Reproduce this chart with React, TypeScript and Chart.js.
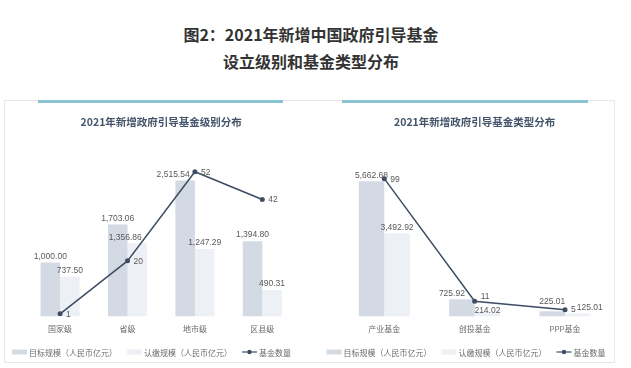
import React, { useEffect, useRef } from "react";
import { Chart, registerables } from "chart.js";

Chart.register(...registerables);

// ---------- data ----------
const levelCategories = ["国家级", "省级", "地市级", "区县级"];
const levelTarget = [1000.0, 1703.06, 2515.54, 1394.8];
const levelSubscribed = [737.5, 1356.86, 1247.29, 490.31];
const levelCount = [1, 20, 52, 42];

const typeCategories = ["产业基金", "创投基金", "PPP基金"];
const typeTarget = [5662.68, 725.92, 225.01];
const typeSubscribed = [3492.92, 214.02, 125.01];
const typeCount = [99, 11, 5];

const seriesNames = ["目标规模（人民币亿元）", "认缴规模（人民币亿元）", "基金数量"];

const mainTitle1 = "图2：2021年新增中国政府引导基金";
const mainTitle2 = "设立级别和基金类型分布";
const leftTitle = "2021年新增政府引导基金级别分布";
const rightTitle = "2021年新增政府引导基金类型分布";

// ---------- styles ----------
const TARGET_COLOR = "#d4dae3";
const SUB_COLOR = "#edf0f4";
const LINE_COLOR = "#3e4d63";
const NUM_FONT = '"Liberation Sans", Arial, "Noto Sans CJK SC", sans-serif';
const CJK_FONT = '"Noto Sans CJK SC", "Liberation Sans", sans-serif';

const fmt = (v: number) =>
  v.toLocaleString("en-US", { minimumFractionDigits: 2, maximumFractionDigits: 2 });

type Rect = { x1: number; y1: number; x2: number; y2: number };
type Pt = { x: number; y: number };

const rectsOverlap = (a: Rect, b: Rect) =>
  a.x1 < b.x2 && a.x2 > b.x1 && a.y1 < b.y2 && a.y2 > b.y1;

const segHitsRect = (p: Pt, q: Pt, r: Rect, m: number) => {
  const len = Math.hypot(q.x - p.x, q.y - p.y);
  const n = Math.max(2, Math.ceil(len));
  for (let k = 0; k <= n; k++) {
    const t = k / n;
    const x = p.x + (q.x - p.x) * t;
    const y = p.y + (q.y - p.y) * t;
    if (x > r.x1 - m && x < r.x2 + m && y > r.y1 - m && y < r.y2 + m) return true;
  }
  return false;
};

const lineHits = (pts: Pt[], cx: number, cy: number, w: number) => {
  const r: Rect = { x1: cx - w / 2, y1: cy - 3, x2: cx + w / 2, y2: cy + 3 };
  for (let k = 0; k < pts.length - 1; k++) {
    if (segHitsRect(pts[k], pts[k + 1], r, 0.5)) return true;
  }
  return false;
};

const valueLabels = {
  id: "valueLabels",
  afterDatasetsDraw(chart: any) {
    const ctx = chart.ctx;
    ctx.save();
    ctx.font = `8.5px ${NUM_FONT}`;
    ctx.fillStyle = "#595959";
    ctx.textBaseline = "middle";
    const H = 8;
    const placed: Rect[] = [];
    let linePts: Pt[] = [];
    // point labels first (to the right of each point, raised if the next segment is nearly flat)
    chart.data.datasets.forEach((ds: any, i: number) => {
      if (ds.type !== "line") return;
      const meta = chart.getDatasetMeta(i);
      linePts = meta.data.map((el: any) => ({ x: el.x, y: el.y }));
      meta.data.forEach((el: any, j: number) => {
        const t = String(ds.data[j]);
        const w = ctx.measureText(t).width;
        const x = el.x + 6;
        let y = el.y;
        const nxt = linePts[j + 1];
        if (nxt && Math.abs((nxt.y - el.y) / (nxt.x - el.x)) < 0.3) y -= 5;
        ctx.textAlign = "left";
        ctx.fillText(t, x, y + 0.5);
        placed.push({ x1: x, y1: y - H / 2, x2: x + w, y2: y + H / 2 });
      });
    });
    const dys = [0, 5, -4, -8];
    const dxs: number[] = [0];
    for (let d = 2; d <= 16; d += 2) dxs.push(-d);
    for (let d = 2; d <= 16; d += 2) dxs.push(d);
    chart.data.datasets.forEach((ds: any, i: number) => {
      if (ds.type === "line") return;
      const meta = chart.getDatasetMeta(i);
      meta.data.forEach((el: any, j: number) => {
        const t = fmt(ds.data[j]);
        const w = ctx.measureText(t).width;
        const cx0 = el.x;
        const cy0 = el.y - 2 - 4.5;
        let best = { cx: cx0, cy: cy0 };
        let found = false;
        for (const dy of dys) {
          for (const dx of dxs) {
            const cx = cx0 + dx;
            const cy = cy0 + dy;
            const r: Rect = { x1: cx - w / 2, y1: cy - H / 2, x2: cx + w / 2, y2: cy + H / 2 };
            let ok = true;
            for (const pr of placed) if (rectsOverlap(r, pr)) { ok = false; break; }
            if (ok && lineHits(linePts, cx, cy, w)) ok = false;
            if (ok) { best = { cx, cy }; found = true; break; }
          }
          if (found) break;
        }
        ctx.textAlign = "center";
        ctx.fillText(t, best.cx, best.cy + 0.5);
        placed.push({ x1: best.cx - w / 2, y1: best.cy - H / 2, x2: best.cx + w / 2, y2: best.cy + H / 2 });
      });
    });
    ctx.restore();
  },
};

const customLegend = {
  id: "customLegend",
  afterDraw(chart: any, _args: any, opts: any) {
    const ctx = chart.ctx;
    ctx.save();
    ctx.font = `8px ${CJK_FONT}`;
    const sw = 15;
    const gap = 2;
    const itemGap = 10;
    const widths = seriesNames.map((t) => sw + gap + ctx.measureText(t).width);
    const total = widths.reduce((a, b) => a + b, 0) + itemGap * (widths.length - 1);
    let x = opts.centerX - total / 2;
    const y = opts.y;
    seriesNames.forEach((t, i) => {
      if (i === 0 || i === 1) {
        ctx.fillStyle = i === 0 ? TARGET_COLOR : SUB_COLOR;
        ctx.fillRect(x, y - 2.5, sw, 5);
      } else {
        ctx.strokeStyle = LINE_COLOR;
        ctx.lineWidth = 1.2;
        ctx.beginPath();
        ctx.moveTo(x, y);
        ctx.lineTo(x + sw, y);
        ctx.stroke();
        ctx.fillStyle = LINE_COLOR;
        ctx.beginPath();
        ctx.arc(x + sw / 2, y, 2.2, 0, Math.PI * 2);
        ctx.fill();
      }
      ctx.fillStyle = "#6b6b6b";
      ctx.textAlign = "left";
      ctx.textBaseline = "middle";
      ctx.fillText(t, x + sw + gap, y + 0.5);
      x += widths[i] + itemGap;
    });
    ctx.restore();
  },
};

type PanelProps = {
  title: string;
  categories: string[];
  target: number[];
  subscribed: number[];
  count: number[];
  barMax: number;
  countMax: number;
  left: number;
  width: number;
  padLeft: number;
  padRight: number;
  legendCenter: number;
  catPct: number;
};

const PANEL_TOP = 105;
const PANEL_H = 263;

function Panel(p: PanelProps) {
  const ref = useRef<HTMLCanvasElement>(null);
  useEffect(() => {
    if (!ref.current) return;
    const chart = new Chart(ref.current, {
      type: "bar",
      data: {
        labels: p.categories,
        datasets: [
          {
            type: "line",
            label: seriesNames[2],
            data: p.count,
            yAxisID: "y1",
            borderColor: LINE_COLOR,
            backgroundColor: LINE_COLOR,
            borderWidth: 1.5,
            pointRadius: 2.5,
            pointBackgroundColor: LINE_COLOR,
            pointBorderWidth: 0,
            tension: 0,
            order: 0,
          } as any,
          {
            type: "bar",
            label: seriesNames[0],
            data: p.target,
            yAxisID: "y",
            backgroundColor: TARGET_COLOR,
            categoryPercentage: p.catPct,
            barPercentage: 1,
            order: 1,
          },
          {
            type: "bar",
            label: seriesNames[1],
            data: p.subscribed,
            yAxisID: "y",
            backgroundColor: SUB_COLOR,
            categoryPercentage: p.catPct,
            barPercentage: 1,
            order: 1,
          },
        ],
      },
      options: {
        animation: false,
        responsive: false,
        maintainAspectRatio: false,
        layout: {
          padding: { left: p.padLeft, right: p.padRight, top: 0, bottom: 25.8 },
        },
        plugins: {
          legend: { display: false },
          tooltip: { enabled: false },
          title: {
            display: true,
            text: p.title,
            color: "#44546a",
            font: { family: CJK_FONT, size: 10.5, weight: "bold" },
            padding: { top: 10.7, bottom: 21.1 },
          },
          customLegend: { centerX: p.legendCenter, y: 247 },
        } as any,
        scales: {
          x: {
            grid: { display: false, drawTicks: false },
            border: { display: false },
            ticks: {
              color: "#6b6b6b",
              font: { family: CJK_FONT, size: 8 },
              padding: 8,
            },
          },
          y: { display: false, min: 0, max: p.barMax },
          y1: { display: false, min: 0, max: p.countMax, position: "right" },
        },
      },
      plugins: [valueLabels, customLegend],
    });
    return () => chart.destroy();
  }, []);
  return (
    <canvas
      ref={ref}
      width={p.width}
      height={PANEL_H}
      style={{ position: "absolute", left: p.left, top: PANEL_TOP, width: p.width, height: PANEL_H }}
    />
  );
}

export default function App() {
  return (
    <div
      style={{
        position: "fixed",
        left: 0,
        top: 0,
        width: 631,
        height: 368,
        background: "#ffffff",
        overflow: "hidden",
      }}
    >
      <div
        style={{
          position: "absolute",
          left: 0,
          width: 622,
          top: 21,
          textAlign: "center",
          fontFamily: CJK_FONT,
          fontWeight: "bold",
          fontSize: 16,
          lineHeight: "27px",
          color: "#333333",
        }}
      >
        <div>{mainTitle1}</div>
        <div>{mainTitle2}</div>
      </div>
      <div
        style={{
          position: "absolute",
          left: 4,
          top: 100,
          width: 609,
          height: 261,
          border: "1px solid #e8e8e8",
        }}
      />
      <div style={{ position: "absolute", left: 38, top: 100, width: 245, height: 3, background: "#8ac4d2" }} />
      <div style={{ position: "absolute", left: 342, top: 100, width: 246, height: 3, background: "#8ac4d2" }} />
      <Panel
        title={leftTitle}
        categories={levelCategories}
        target={levelTarget}
        subscribed={levelSubscribed}
        count={levelCount}
        barMax={3090}
        countMax={60}
        left={0}
        width={310}
        padLeft={26.4}
        padRight={14}
        legendCenter={151.5}
        catPct={0.58}
      />
      <Panel
        title={rightTitle}
        categories={typeCategories}
        target={typeTarget}
        subscribed={typeSubscribed}
        count={typeCount}
        barMax={7000}
        countMax={120}
        left={310}
        width={321}
        padLeft={29.1}
        padRight={20.8}
        legendCenter={156}
        catPct={0.565}
      />
    </div>
  );
}
